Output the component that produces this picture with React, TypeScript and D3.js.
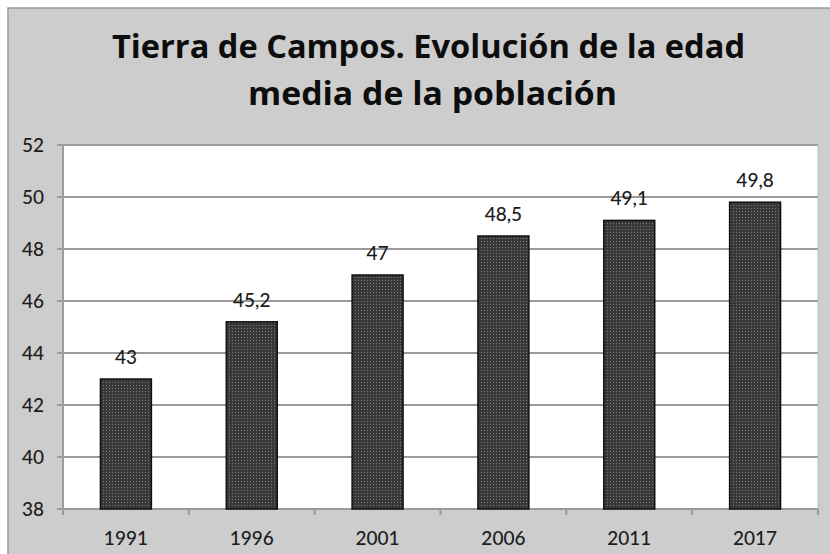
import React from "react";
import * as d3 from "d3";

const years = ["1991", "1996", "2001", "2006", "2011", "2017"];
const ages = [43, 45.2, 47, 48.5, 49.1, 49.8];
const ageLabels = ["43", "45,2", "47", "48,5", "49,1", "49,8"];
const yTicks = [38, 40, 42, 44, 46, 48, 50, 52];
const titleLines = ["Tierra de Campos. Evolución de la edad", "media de la población"];

export default function App() {
  const W = 830, H = 554;
  const left = 63, right = 818, top = 145, bottom = 509;
  const x = d3.scaleBand<string>().domain(years).range([left, right]).paddingInner(0.595).paddingOuter(0.2975);
  const y = d3.scaleLinear().domain([38, 52]).range([bottom, top]);
  const step = (right - left) / years.length;
  const font = "Lato, 'Open Sans', sans-serif";
  const titleFont = "'Open Sans', Lato, sans-serif";
  return (
    <svg width={W} height={H} style={{ position: "absolute", left: 0, top: 0 }}>
      <defs>
        <pattern id="dots" width="3" height="3" patternUnits="userSpaceOnUse">
          <rect width="3" height="3" fill="#383838" />
          <rect x="1" y="1" width="1" height="1" fill="#7a7a7a" />
        </pattern>
      </defs>
      <rect x={0} y={0} width={W} height={H} fill="#ffffff" />
      <rect x={8} y={8} width={W} height={H} fill="#cdcdcd" stroke="#9a9a9a" strokeWidth={1.5} />
      {titleLines.map((t, i) => (
        <text key={t} x={i === 0 ? 112 : 248} y={i === 0 ? 58 : 105} textLength={i === 0 ? 633 : 369}
          lengthAdjust="spacingAndGlyphs" fontFamily={titleFont} fontWeight={700} fontSize={32} fill="#0d0d0d">{t}</text>
      ))}
      <rect x={left} y={top} width={right - left} height={bottom - top} fill="#ffffff" />
      {yTicks.map((t) => (
        <g key={t}>
          <line x1={left - 6} x2={right} y1={y(t)} y2={y(t)} stroke="#9a9a9a" strokeWidth={2} />
          <text x={44} y={y(t)} dy="0.35em" textAnchor="end" fontFamily={font} fontWeight={500} fontSize={19} fill="#1c1c1c">{t}</text>
        </g>
      ))}
      <line x1={left} x2={left} y1={top} y2={bottom} stroke="#9a9a9a" strokeWidth={2} />
      <line x1={right} x2={right} y1={top} y2={bottom} stroke="#bdbdbd" strokeWidth={1} />
      {d3.range(years.length + 1).map((i) => (
        <line key={i} x1={left + i * step} x2={left + i * step} y1={bottom} y2={bottom + 6} stroke="#9a9a9a" strokeWidth={2} />
      ))}
      {years.map((yr, i) => (
        <g key={yr}>
          <rect x={x(yr)} y={y(ages[i])} width={x.bandwidth()} height={bottom - y(ages[i])} fill="url(#dots)" stroke="#111" strokeWidth={1.5} />
          <text x={(x(yr) ?? 0) + x.bandwidth() / 2} y={y(ages[i]) - 15} textAnchor="middle" fontFamily={font} fontWeight={500} fontSize={19} fill="#1c1c1c">{ageLabels[i]}</text>
          <text x={(x(yr) ?? 0) + x.bandwidth() / 2} y={545} textAnchor="middle" fontFamily={font} fontWeight={500} fontSize={19} fill="#1c1c1c">{yr}</text>
        </g>
      ))}
    </svg>
  );
}
